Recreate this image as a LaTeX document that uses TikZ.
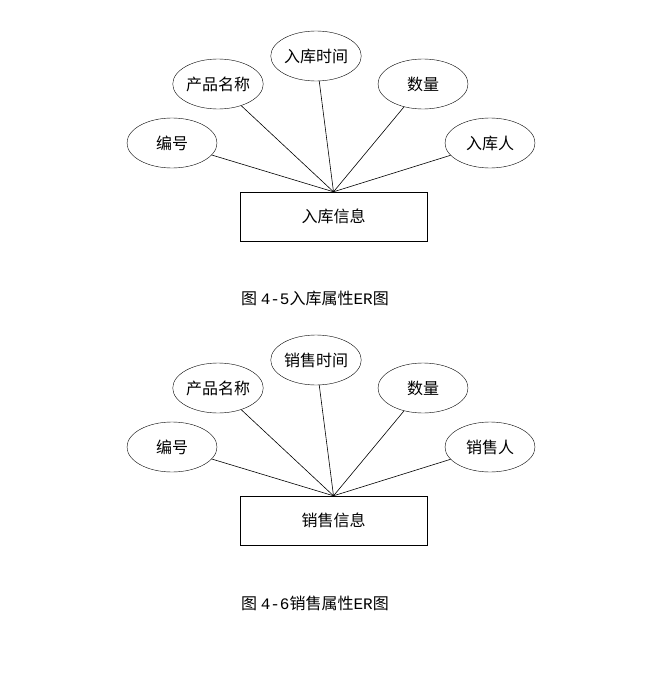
\documentclass[tikz,border=0pt]{standalone}
\usepackage{fontspec}
\newfontfamily\cjk{Noto Sans CJK SC}
\newfontfamily\lmono{Liberation Mono}
\usetikzlibrary{shapes.geometric}
\begin{document}
\begin{tikzpicture}[x=1pt,y=-1pt,
  attr/.style={draw,ellipse,minimum width=90pt,minimum height=50pt,font=\cjk\fontsize{16}{16}\selectfont,inner sep=0pt},
  ent/.style={draw,rectangle,minimum width=187pt,minimum height=49pt,font=\cjk\fontsize{16}{16}\selectfont},
  captext/.style={font=\cjk\fontsize{16}{16}\selectfont},
  link/.style={draw,line width=0.6pt}]
\useasboundingbox (0,0) rectangle (648,674);
% top
\node[attr] (a) at (172,143) {编号};
\node[attr] (b) at (218,84) {产品名称};
\node[attr] (c) at (316,56) {入库时间};
\node[attr] (d) at (423,84) {数量};
\node[attr] (e) at (490,143) {入库人};
\node[ent] (r) at (333.5,216.5) {入库信息};
\foreach \n in {a,b,c,d,e} \draw[link] (\n) -- (r.north);
\node[captext] (k) at (315,298) {图 {\lmono 4-5}入库属性{\lmono ER}图};
% bottom
\node[attr] (f) at (172,447) {编号};
\node[attr] (g) at (218,388) {产品名称};
\node[attr] (h) at (316,360) {销售时间};
\node[attr] (i) at (423,388) {数量};
\node[attr] (j) at (490,447) {销售人};
\node[ent] (s) at (333.5,520.5) {销售信息};
\foreach \n in {f,g,h,i,j} \draw[link] (\n) -- (s.north);
\node[captext] (l) at (315,603) {图 {\lmono 4-6}销售属性{\lmono ER}图};
\end{tikzpicture}
\end{document}
